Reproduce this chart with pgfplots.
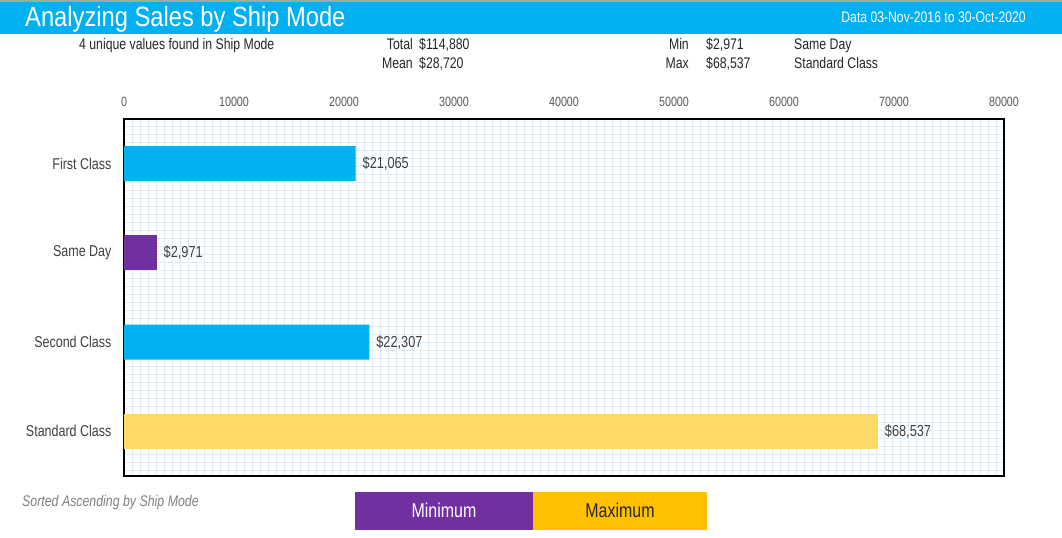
\documentclass[border=0pt]{standalone}
\usepackage{pgfplots}
\pgfplotsset{compat=1.18}
\usepackage{fontspec}
\setmainfont{Liberation Sans}[FakeStretch=0.8]
\newfontfamily\titlefont{Liberation Sans}[FakeStretch=0.85]
\definecolor{barblue}{HTML}{00B0F0}
\definecolor{barpurple}{HTML}{7030A0}
\definecolor{baryellow}{HTML}{FFD966}
\definecolor{maxyellow}{HTML}{FFC000}
\definecolor{gridblue}{HTML}{DDEBF7}
\definecolor{txtdark}{HTML}{262626}
\definecolor{txtgray}{HTML}{404040}
\definecolor{tickgray}{HTML}{595959}
\definecolor{topline}{HTML}{A6A6A6}
\begin{document}
\begin{tikzpicture}[x=1bp,y=1bp]
\useasboundingbox[fill=white] (0,0) rectangle (1062,538);
% title bar
\fill[barblue] (0,504) rectangle (1062,536);
\fill[topline] (0,536) rectangle (1062,538);
\node[anchor=base west, text=white, inner sep=0, font=\titlefont\fontsize{28}{30}\selectfont] at (25,511) {Analyzing Sales by Ship Mode};
\node[anchor=base east, text=white, inner sep=0, font=\fontsize{15.3}{17}\selectfont] at (1026,515) {Data 03-Nov-2016 to 30-Oct-2020};
% header stats
\begin{scope}[every node/.style={inner sep=0, text=txtdark, font=\fontsize{15.4}{17}\selectfont}]
\node[anchor=base west] at (79,488) {4 unique values found in Ship Mode};
\node[anchor=base east] at (413,488) {Total};
\node[anchor=base west] at (419,488) {\$114,880};
\node[anchor=base east] at (413,469) {Mean};
\node[anchor=base west] at (419,469) {\$28,720};
\node[anchor=base east] at (689,488) {Min};
\node[anchor=base west] at (706,488) {\$2,971};
\node[anchor=base west] at (794,488) {Same Day};
\node[anchor=base east] at (689,469) {Max};
\node[anchor=base west] at (706,469) {\$68,537};
\node[anchor=base west] at (794,469) {Standard Class};
\end{scope}
% footer
\node[anchor=base west, inner sep=0, text=gray, font=\itshape\fontsize{15.5}{17}\selectfont] at (22,31) {Sorted Ascending by Ship Mode};
\fill[barpurple] (355,8) rectangle (533,46);
\fill[maxyellow] (533,8) rectangle (707,46);
\node[anchor=base, inner sep=0, text=white, font=\fontsize{20}{22}\selectfont] at (444,20) {Minimum};
\node[anchor=base, inner sep=0, text=txtdark, font=\fontsize{20}{22}\selectfont] at (620,20) {Maximum};
\begin{axis}[
  at={(124bp,62bp)}, anchor=south west,
  scale only axis, width=880bp, height=357bp,
  xbar, bar width=35bp,
  xmin=0, xmax=80000, ymin=-0.5, ymax=3.5, y dir=reverse,
  xtick={0,10000,...,80000}, xticklabel pos=upper, scaled x ticks=false,
  /pgf/number format/1000 sep={},
  /pgf/number format/assume math mode=true,
  ytick={0,1,2,3}, yticklabels={First Class,Same Day,Second Class,Standard Class},
  minor xtick={0,727.2727,...,80000},
  minor ytick={-0.4104,-0.3208,...,3.5},
  xminorgrids=true, yminorgrids=true,
  xmajorgrids=false, ymajorgrids=false,
  minor grid style={gridblue, line width=1bp},
  major tick length=0pt, minor tick length=0pt,
  axis line style={black, line width=1.3bp},
  xticklabel style={font=\fontsize{13.5}{15}\selectfont, text=tickgray, yshift=9bp},
  yticklabel style={font=\fontsize{15.7}{17}\selectfont, text=txtgray, xshift=-9bp},
  point meta=x,
  nodes near coords={\$\pgfmathprintnumber[fixed, precision=0, 1000 sep={,}]{\pgfplotspointmeta}},
  nodes near coords align={horizontal},
  every node near coord/.append style={font=\fontsize{16}{18}\selectfont, text=txtgray, xshift=3.5bp},
]
\addplot[fill=barblue, draw=none, bar shift=0pt] coordinates {(21065,0) (22307,2)};
\addplot[fill=barpurple, draw=none, bar shift=0pt] coordinates {(2971,1)};
\addplot[fill=baryellow, draw=none, bar shift=0pt] coordinates {(68537,3)};
\end{axis}
\end{tikzpicture}
\end{document}
